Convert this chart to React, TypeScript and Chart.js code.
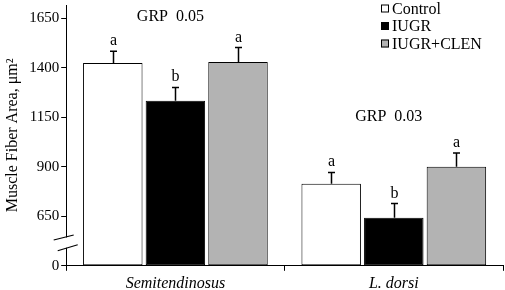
import { useEffect, useRef } from "react";
import { Chart, registerables } from "chart.js";

Chart.register(...registerables);

const categories = ["Semitendinosus", "L. dorsi"];
const seriesNames = ["Control", "IUGR", "IUGR+CLEN"];
const controlValues = [1423, 814];
const iugrValues = [1233, 643];
const clenValues = [1428, 900];
const controlErrors = [60, 57];
const iugrErrors = [67, 71];
const clenErrors = [73, 69];
const controlLetters = ["a", "a"];
const iugrLetters = ["b", "b"];
const clenLetters = ["a", "a"];
const groupNotes = ["GRP  0.05", "GRP  0.03"];
const groupNoteValues = [1655, 1150];
const tickValues = [400, 650, 900, 1150, 1400, 1650];
const tickLabels = ["0", "650", "900", "1150", "1400", "1650"];
const axisMin = 400;
const axisMax = 1716;
const breakValues = [543, 491];

const FONT = "'Liberation Serif', 'Times New Roman', serif";
const colors = ["#ffffff", "#000000", "#b3b3b3"];

const errorsBySeries = [controlErrors, iugrErrors, clenErrors];
const lettersBySeries = [controlLetters, iugrLetters, clenLetters];

const decorPlugin = {
  id: "decor",
  afterDatasetsDraw(chart: any) {
    const ctx = chart.ctx;
    const y = chart.scales.y;
    const area = chart.chartArea;
    ctx.save();
    chart.data.datasets.forEach((ds: any, i: number) => {
      const meta = chart.getDatasetMeta(i);
      meta.data.forEach((el: any, j: number) => {
        const v = ds.data[j];
        const top = y.getPixelForValue(v + errorsBySeries[i][j]);
        const x = Math.round(el.x) + 0.5;
        ctx.strokeStyle = "#000";
        ctx.lineWidth = 1.5;
        ctx.beginPath();
        ctx.moveTo(x, el.y);
        ctx.lineTo(x, top);
        ctx.moveTo(x - 3.5, top);
        ctx.lineTo(x + 3.5, top);
        ctx.stroke();
        ctx.fillStyle = "#000";
        ctx.font = `16px ${FONT}`;
        ctx.textAlign = "center";
        ctx.textBaseline = "alphabetic";
        ctx.fillText(lettersBySeries[i][j], x, top - 6);
      });
    });
    const xs = chart.scales.x;
    groupNotes.forEach((t, j) => {
      ctx.font = `16px ${FONT}`;
      ctx.textAlign = "center";
      ctx.textBaseline = "middle";
      ctx.fillStyle = "#000";
      ctx.fillText(t, xs.getPixelForValue(j) - 5, y.getPixelForValue(groupNoteValues[j]));
    });
    const lx = area.right - 122;
    let ly = 8.5;
    seriesNames.forEach((name, i) => {
      ctx.fillStyle = colors[i];
      ctx.fillRect(lx, ly - 4, 8, 8);
      ctx.strokeStyle = "#000";
      ctx.lineWidth = 1;
      ctx.strokeRect(lx + 0.5, ly - 3.5, 7, 7);
      ctx.fillStyle = "#000";
      ctx.font = `16px ${FONT}`;
      ctx.textAlign = "left";
      ctx.textBaseline = "middle";
      ctx.fillText(name, lx + 11, ly + 1);
      ly += 17.5;
    });
    ctx.restore();
  },
  afterDraw(chart: any) {
    const ctx = chart.ctx;
    const y = chart.scales.y;
    const ax = chart.chartArea.left;
    const yUp = y.getPixelForValue(breakValues[0]);
    const yLo = y.getPixelForValue(breakValues[1]);
    ctx.save();
    ctx.fillStyle = "#fff";
    ctx.fillRect(ax - 2, yUp, 4, yLo - yUp);
    ctx.strokeStyle = "#000";
    ctx.lineWidth = 1.2;
    ctx.beginPath();
    ctx.moveTo(ax - 12.5, yUp + 2.5);
    ctx.lineTo(ax + 7.5, yUp - 2.5);
    ctx.moveTo(ax - 8.5, yLo + 3);
    ctx.lineTo(ax + 11.5, yLo - 3);
    ctx.stroke();
    ctx.restore();
  },
};

export default function App() {
  const ref = useRef<HTMLCanvasElement>(null);
  useEffect(() => {
    if (!ref.current) return;
    const chart = new Chart(ref.current, {
      type: "bar",
      data: {
        labels: categories,
        datasets: [controlValues, iugrValues, clenValues].map((d, i) => ({
          label: seriesNames[i],
          data: d,
          base: axisMin,
          backgroundColor: colors[i],
          borderColor: "#000",
          borderWidth: 1,
          borderSkipped: false,
          categoryPercentage: 0.86,
          barPercentage: 0.95,
        })),
      },
      options: {
        animation: false,
        responsive: false,
        maintainAspectRatio: false,
        layout: { padding: { top: 0, right: 2, left: 3, bottom: -6 } },
        plugins: {
          legend: { display: false },
          tooltip: { enabled: false },
        },
        scales: {
          x: {
            offset: true,
            grid: {
              offset: true,
              drawOnChartArea: false,
              drawTicks: true,
              tickLength: 5,
              color: "#000",
            },
            border: { display: true, color: "#000", width: 1 },
            ticks: {
              color: "#000",
              padding: 3,
              font: { family: FONT, size: 16, style: "italic" },
            },
          },
          y: {
            min: axisMin,
            max: axisMax,
            afterBuildTicks: (scale: any) => {
              scale.ticks = tickValues.map((v) => ({ value: v }));
            },
            afterFit: (scale: any) => {
              scale.paddingTop = 5;
            },
            grid: {
              drawOnChartArea: false,
              drawTicks: true,
              tickLength: 5,
              color: "#000",
            },
            border: { display: true, color: "#000", width: 1 },
            ticks: {
              color: "#000",
              padding: 2,
              font: { family: FONT, size: 15 },
              callback: (v: any) => {
                const k = tickValues.indexOf(Number(v));
                return k >= 0 ? tickLabels[k] : "";
              },
            },
            title: {
              display: true,
              text: "Muscle Fiber Area, μm²",
              color: "#000",
              padding: { top: 0, bottom: 5 },
              font: { family: FONT, size: 16 },
            },
          },
        },
      },
      plugins: [decorPlugin],
    });
    return () => chart.destroy();
  }, []);
  return (
    <div style={{ position: "fixed", left: 0, top: 0, width: 505, height: 290, background: "#fff" }}>
      <canvas ref={ref} width={505} height={290} style={{ width: 505, height: 290 }} />
    </div>
  );
}
